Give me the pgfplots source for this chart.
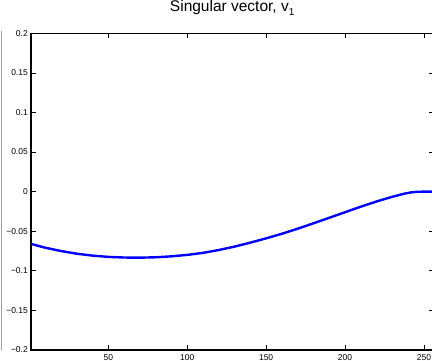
\documentclass[border=0pt]{standalone}
\usepackage{fontspec}
\setmainfont{Liberation Sans}
\usepackage{pgfplots}
\pgfplotsset{compat=1.18}
\begin{document}
\begin{tikzpicture}
\useasboundingbox (-31pt,-11pt) rectangle (401pt,350pt);
\draw[gray!75, line width=1.4pt] (-29.5pt,0pt) -- (-29.5pt,319pt);
\begin{axis}[
  scale only axis, width=402.4pt, height=316.7pt,
  xmin=1, xmax=256, ymin=-0.2, ymax=0.2,
  xtick={50,100,150,200,250},
  ytick={-0.2,-0.15,-0.1,-0.05,0,0.05,0.1,0.15,0.2},
  yticklabels={−0.2,−0.15,−0.1,−0.05,0,0.05,0.1,0.15,0.2},
  tick align=inside, major tick length=4.5pt,
  axis line style={line width=1.1pt},
  every tick/.style={black, line width=0.7pt},
  tick label style={font=\fontsize{8.5}{10}\selectfont, inner sep=0pt},
  xticklabel style={yshift=-4.5pt},
  yticklabel style={xshift=-3pt},
  /pgf/number format/assume math mode=true,
  title={Singular vector, v\raisebox{-4pt}{\fontsize{10}{10}\selectfont 1}},
  title style={font=\fontsize{15.5}{17}\selectfont, at={(0.5,1)}, anchor=base, yshift=16pt, inner sep=0pt},
]
\addplot[blue, line width=2.4pt, line join=round, line cap=round] coordinates {
(1,-0.066) (10,-0.0708) (20,-0.0750) (30,-0.0784) (40,-0.0808) (50,-0.0824)
(60,-0.0832) (70,-0.0834) (80,-0.0829) (90,-0.0817) (100,-0.0799)
(110,-0.0773) (120,-0.0737) (130,-0.0694) (140,-0.0644) (150,-0.0590)
(160,-0.0532) (170,-0.0468) (180,-0.0400) (190,-0.0330) (200,-0.0260)
(210,-0.0190) (220,-0.0124) (226,-0.0088) (232,-0.0054) (238,-0.0024) (242,-0.0009) (246,-0.0002) (250,0) (256,0)
};
\end{axis}
\end{tikzpicture}
\end{document}
